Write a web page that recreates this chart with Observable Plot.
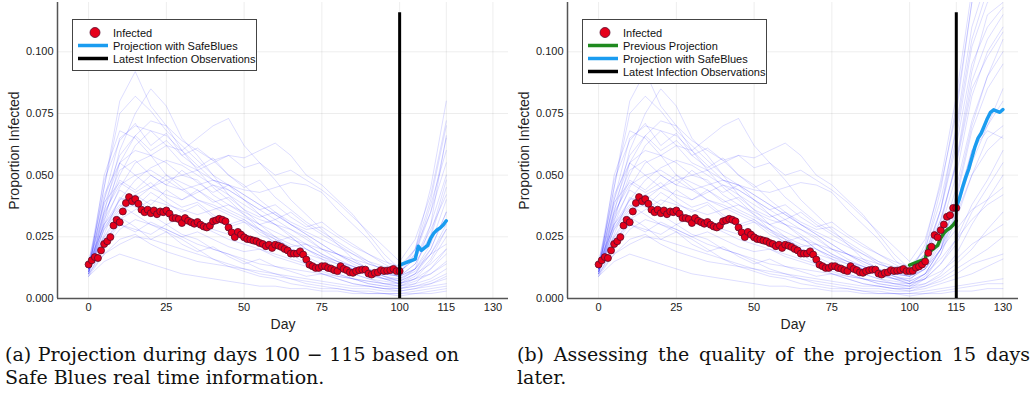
<!DOCTYPE html>
<html>
<head>
<meta charset="utf-8">
<script src="https://cdn.jsdelivr.net/npm/d3@7"></script>
<script src="https://cdn.jsdelivr.net/npm/@observablehq/plot@0.6"></script>
<style>
  body { margin: 0; background: #fff; }
  #root { position: relative; width: 1034px; height: 394px; overflow: hidden; }
  .panel { position: absolute; top: 0; }
  .legend { position: absolute; background: #fff; border: 1px solid #444; box-sizing: border-box;
            font: 11px "Liberation Sans", Arial, sans-serif; color: #111; padding-top: 6px; }
  .legend .row { height: 13px; display: flex; align-items: center; white-space: nowrap; }
  .legend svg { margin-left: 5px; margin-right: 5px; flex: none; }
  .cap { position: absolute; font-family: "DejaVu Serif", serif; font-size: 19px; color: #111;
         line-height: 23px; white-space: nowrap; }
  .cap .l1 { text-align: justify; text-align-last: justify; }
  svg [aria-label="x-axis label"], svg [aria-label="y-axis label"] { font-size: 14px; }
</style>
</head>
<body>
<div id="root"></div>
<script>
// ---------- data ----------
const xDomain = [-10, 135];
const yDomain = [0, 0.12];
const xTicks = [0, 25, 50, 75, 100, 115, 130];
const yTicks = [0, 0.025, 0.05, 0.075, 0.1];
const obsTop = 0.1158;           // top of the "Latest Infection Observations" line
const obsDayA = 100;
const obsDayB = 115;

// observed proportion infected, day 0 .. 115 (value index = day)
const infected = [
  .0138,.0155,.0168,.0164,.0195,.0221,.0232,.0249,.0296,.0319,
  .0309,.0353,.0387,.0411,.0394,.0403,.0384,.0360,.0350,.0360,
  .0346,.0357,.0342,.0353,.0350,.0357,.0344,.0326,.0326,.0322,
  .0306,.0326,.0315,.0309,.0303,.0310,.0299,.0292,.0288,.0295,
  .0313,.0317,.0323,.0319,.0313,.0288,.0268,.0249,.0270,.0259,
  .0248,.0241,.0239,.0235,.0232,.0225,.0221,.0212,.0218,.0205,
  .0218,.0214,.0209,.0201,.0195,.0182,.0182,.0182,.0191,.0178,
  .0158,.0137,.0131,.0124,.0124,.0131,.0131,.0124,.0121,.0115,
  .0111,.0131,.0120,.0115,.0106,.0104,.0111,.0115,.0117,.0117,
  .0101,.0097,.0104,.0106,.0115,.0111,.0113,.0115,.0120,.0111,
  .0111,
  .0112,.0125,.0130,.0138,.0150,.0185,.0210,.0257,.0248,.0277,
  .0300,.0331,.0338,.0367,.0367
];

// projection made on day 100 (days 100..115)
const projDaysA = [100,101,102,103,104,105,106,107,108,109,110,111,112,113,114,115];
const projA = [.0135,.0140,.0145,.0150,.0155,.0160,.0212,.0195,.0205,.0215,.0245,.0265,.0278,.0286,.0298,.0315];
// projection made on day 115 (days 115..130)
const projDaysB = [115,116,117,118,119,120,121,122,123,124,125,126,127,128,129,130];
const projB = [.0371,.0405,.0450,.0490,.0525,.0570,.0615,.0650,.0670,.0700,.0730,.0755,.0765,.0760,.0755,.0766];

// simulated trajectories (days 0,5,...,100)
const simDays = [0,5,10,15,20,25,30,35,40,45,50,55,60,65,70,75,80,85,90,95,100];
const runs = [
  [.012,.045,.080,.092,.078,.070,.060,.052,.045,.040,.034,.028,.022,.018,.014,.010,.008,.006,.005,.004,.003],
  [.010,.035,.060,.075,.085,.078,.065,.058,.050,.042,.036,.030,.025,.020,.016,.012,.010,.008,.006,.005,.004],
  [.011,.030,.045,.055,.058,.062,.060,.065,.070,.073,.062,.055,.048,.040,.034,.028,.022,.016,.012,.009,.007],
  [.012,.025,.035,.040,.045,.048,.050,.052,.055,.058,.057,.060,.063,.058,.050,.046,.040,.034,.026,.018,.012],
  [.013,.040,.065,.070,.068,.062,.055,.052,.048,.046,.044,.043,.045,.047,.046,.043,.036,.030,.024,.016,.010],
  [.010,.050,.068,.065,.058,.050,.045,.040,.038,.035,.032,.028,.024,.020,.017,.014,.012,.010,.008,.007,.006],
  [.012,.038,.055,.060,.058,.055,.050,.048,.042,.038,.034,.030,.027,.024,.022,.020,.018,.016,.014,.012,.011],
  [.009,.018,.022,.025,.024,.022,.020,.018,.016,.014,.012,.010,.009,.008,.006,.005,.004,.003,.003,.002,.002],
  [.014,.030,.040,.042,.045,.050,.047,.044,.040,.036,.033,.030,.032,.035,.030,.026,.022,.018,.014,.012,.010],
  [.011,.028,.036,.038,.034,.030,.026,.024,.020,.018,.015,.012,.010,.008,.007,.006,.005,.004,.004,.003,.003],
  [.015,.042,.055,.050,.045,.042,.040,.043,.046,.044,.040,.036,.032,.028,.025,.020,.016,.013,.010,.008,.008],
  [.010,.020,.028,.032,.030,.027,.024,.020,.016,.013,.011,.009,.008,.006,.005,.004,.004,.003,.002,.002,.002],
  [.012,.033,.050,.062,.068,.066,.060,.054,.048,.044,.040,.034,.030,.025,.020,.016,.012,.010,.008,.006,.005],
  [.013,.025,.032,.036,.040,.038,.036,.034,.036,.038,.035,.032,.030,.028,.024,.020,.018,.015,.012,.010,.009],
  [.009,.015,.018,.016,.014,.012,.010,.009,.008,.007,.006,.005,.005,.004,.004,.003,.003,.002,.002,.002,.001],
  [.012,.040,.058,.066,.072,.070,.064,.060,.056,.050,.046,.040,.035,.030,.026,.022,.018,.014,.011,.008,.006],
  [.014,.035,.046,.050,.052,.048,.044,.040,.037,.034,.031,.028,.025,.022,.020,.017,.015,.013,.011,.010,.009],
  [.011,.022,.030,.028,.026,.030,.033,.030,.027,.024,.022,.020,.018,.016,.014,.012,.010,.008,.007,.006,.005],
  [.010,.032,.044,.040,.036,.034,.032,.030,.028,.026,.024,.022,.021,.020,.018,.016,.014,.012,.011,.010,.009],
  [.013,.045,.075,.082,.076,.068,.062,.056,.050,.046,.042,.038,.034,.030,.026,.022,.018,.015,.012,.009,.007],
  [.012,.028,.040,.048,.053,.056,.054,.050,.046,.042,.038,.034,.030,.026,.022,.018,.015,.012,.010,.008,.007],
  [.010,.018,.024,.026,.022,.019,.017,.015,.014,.013,.012,.011,.010,.009,.008,.007,.006,.005,.005,.004,.004],
  [.011,.036,.052,.056,.050,.046,.044,.046,.048,.046,.042,.038,.034,.030,.027,.024,.021,.018,.015,.013,.012],
  [.013,.030,.038,.034,.030,.028,.025,.022,.020,.018,.016,.014,.013,.012,.011,.010,.009,.008,.007,.006,.006],
  [.011,.034,.048,.044,.050,.046,.052,.047,.043,.046,.040,.036,.038,.033,.029,.031,.026,.022,.018,.015,.013],
  [.012,.026,.041,.037,.043,.039,.035,.038,.033,.029,.031,.026,.023,.025,.020,.017,.014,.012,.009,.008,.006],
  [.009,.022,.033,.029,.024,.027,.022,.019,.021,.017,.014,.016,.013,.011,.009,.010,.008,.006,.005,.004,.004],
  [.014,.048,.064,.071,.062,.067,.058,.053,.057,.050,.045,.048,.041,.036,.031,.027,.023,.019,.015,.011,.009],
  [.010,.029,.037,.042,.038,.044,.040,.044,.039,.041,.036,.033,.035,.031,.028,.029,.025,.021,.018,.014,.011],
  [.013,.039,.047,.043,.047,.041,.037,.039,.034,.030,.032,.027,.024,.021,.022,.018,.015,.013,.011,.009,.008],
  [.011,.031,.055,.066,.060,.064,.058,.061,.056,.058,.053,.055,.050,.052,.048,.044,.039,.033,.027,.021,.015],
  [.012,.024,.030,.027,.031,.028,.025,.027,.024,.021,.019,.020,.017,.015,.013,.011,.009,.008,.006,.005,.005]
];
// continuation of each run in panel (a): days 105,110,115
const tailDaysA = [105,110,115];
const tailsA = [
  [.004,.006,.008],[.006,.012,.020],[.012,.030,.066],[.020,.040,.070],[.018,.038,.060],[.008,.012,.018],
  [.016,.030,.050],[.002,.003,.004],[.020,.045,.080],[.004,.005,.006],[.012,.022,.040],[.003,.004,.005],
  [.008,.015,.025],[.014,.025,.045],[.002,.002,.003],[.010,.018,.030],[.012,.020,.035],[.006,.008,.012],
  [.012,.018,.022],[.010,.020,.035],[.010,.014,.020],[.005,.007,.010],[.018,.035,.065],[.008,.010,.015],
  [.020,.035,.055],[.009,.016,.028],[.005,.006,.009],[.014,.026,.048],[.016,.028,.042],[.011,.018,.028],
  [.024,.042,.072],[.007,.010,.014]
];
// continuation of each run in panel (b): days 105..130
const tailDaysB = [105,110,115,120,125,130];
const tailsB = [
  [.005,.008,.012,.016,.020,.025],[.008,.018,.035,.055,.070,.085],[.015,.036,.070,.110,.130,.140],
  [.020,.044,.078,.120,.135,.140],[.018,.036,.062,.095,.110,.118],[.008,.014,.022,.035,.045,.055],
  [.016,.032,.055,.088,.105,.115],[.002,.003,.004,.005,.006,.006],[.022,.048,.082,.125,.140,.145],
  [.004,.006,.008,.010,.013,.016],[.012,.024,.045,.072,.090,.100],[.003,.004,.005,.006,.007,.008],
  [.009,.018,.032,.050,.065,.070],[.014,.028,.050,.082,.100,.110],[.002,.002,.003,.003,.004,.004],
  [.010,.020,.036,.060,.070,.080],[.012,.022,.038,.060,.068,.065],[.006,.009,.014,.020,.028,.035],
  [.012,.020,.028,.036,.040,.045],[.010,.020,.040,.068,.085,.095],[.010,.016,.024,.032,.038,.042],
  [.005,.007,.010,.014,.016,.018],[.018,.036,.065,.102,.120,.125],[.008,.011,.016,.022,.026,.030],
  [.020,.040,.068,.105,.125,.130],[.010,.020,.042,.070,.090,.105],[.006,.010,.018,.030,.040,.050],
  [.016,.030,.056,.092,.115,.120],[.018,.032,.054,.085,.098,.108],[.012,.020,.034,.050,.060,.066],
  [.024,.046,.075,.120,.135,.140],[.008,.014,.024,.038,.048,.060]
];

// ---------- colours ----------
const C = { sim: "#0000ff", dot: "#e6001b", dotStroke: "#5b0b2c", proj: "#1a9cf0", prev: "#1f8a1f", obs: "#000", axis: "#555" };

// ---------- helpers ----------
function simRows(tails, tailDays) {
  const rows = [];
  runs.forEach((r, i) => {
    simDays.forEach((d, j) => rows.push({ run: i, day: d, value: r[j] }));
    tailDays.forEach((d, j) => rows.push({ run: i, day: d, value: tails[i][j] }));
  });
  return rows;
}
const series = (days, vals) => days.map((d, i) => ({ day: d, value: vals[i] }));
const infectedRows = infected.map((v, i) => ({ day: i, value: v }));

function makePlot({ sims, lastDay, obsDay, extra }) {
  return Plot.plot({
    width: 512, height: 336,
    marginLeft: 57, marginRight: 4, marginTop: 2, marginBottom: 38,
    style: { fontFamily: "'Liberation Sans', Arial, sans-serif", fontSize: "11px", color: "#222", background: "transparent" },
    x: { domain: xDomain, ticks: xTicks, tickSize: 0, tickPadding: 5,
         label: "Day", labelAnchor: "center", labelOffset: 30, labelArrow: "none" },
    y: { domain: yDomain, ticks: yTicks, tickFormat: ".3f", tickSize: 0, tickPadding: 4,
         label: "Proportion Infected", labelAnchor: "center", labelOffset: 48, labelArrow: "none" },
    marks: [
      Plot.ruleX(xTicks, { stroke: "#000", strokeOpacity: 0.07 }),
      Plot.ruleY(yTicks, { stroke: "#000", strokeOpacity: 0.07 }),
      Plot.ruleY([yDomain[0]], { stroke: C.axis, strokeWidth: 1.5 }),
      Plot.ruleX([xDomain[0]], { stroke: C.axis, strokeWidth: 1.5 }),
      Plot.line(sims, { x: "day", y: "value", z: "run", stroke: C.sim, strokeOpacity: 0.15, strokeWidth: 0.9, clip: true }),
      ...extra,
      Plot.dot(infectedRows.filter(d => d.day <= lastDay), { x: "day", y: "value", r: 3.5, fill: C.dot, stroke: C.dotStroke, strokeWidth: 0.8 }),
      Plot.ruleX([obsDay], { y1: yDomain[0], y2: obsTop, stroke: C.obs, strokeWidth: 3 })
    ]
  });
}

function legendBox(items, left) {
  const div = document.createElement("div");
  div.className = "legend";
  div.style.left = left + "px";
  div.style.top = "19px";
  div.style.width = "185px";
  div.style.height = (items.length * 13 + 13) + "px";
  for (const it of items) {
    const row = document.createElement("div");
    row.className = "row";
    const sw = it.type === "dot"
      ? `<svg width="30" height="13"><circle cx="17" cy="6.5" r="5" fill="${C.dot}" stroke="${C.dotStroke}" stroke-width="0.8"/></svg>`
      : `<svg width="30" height="13"><line x1="0" x2="30" y1="6.5" y2="6.5" stroke="${it.color}" stroke-width="3.5"/></svg>`;
    row.innerHTML = sw + `<span>${it.label}</span>`;
    div.appendChild(row);
  }
  return div;
}

const root = document.getElementById("root");

// panel (a)
const pa = document.createElement("div");
pa.className = "panel"; pa.style.left = "0px";
pa.appendChild(makePlot({
  sims: simRows(tailsA, tailDaysA), lastDay: obsDayA, obsDay: obsDayA,
  extra: [Plot.line(series(projDaysA, projA), { x: "day", y: "value", stroke: C.proj, strokeWidth: 3.5 })]
}));
root.appendChild(pa);
root.appendChild(legendBox([
  { type: "dot", label: "Infected" },
  { type: "line", color: C.proj, label: "Projection with SafeBlues" },
  { type: "line", color: C.obs, label: "Latest Infection Observations" }
], 72));

// panel (b)
const pb = document.createElement("div");
pb.className = "panel"; pb.style.left = "510px";
pb.appendChild(makePlot({
  sims: simRows(tailsB, tailDaysB), lastDay: obsDayB, obsDay: obsDayB,
  extra: [
    Plot.line(series(projDaysA, projA), { x: "day", y: "value", stroke: C.prev, strokeWidth: 3.5 }),
    Plot.line(series(projDaysB, projB), { x: "day", y: "value", stroke: C.proj, strokeWidth: 3.5 })
  ]
}));
root.appendChild(pb);
root.appendChild(legendBox([
  { type: "dot", label: "Infected" },
  { type: "line", color: C.prev, label: "Previous Projection" },
  { type: "line", color: C.proj, label: "Projection with SafeBlues" },
  { type: "line", color: C.obs, label: "Latest Infection Observations" }
], 582));

// captions
function caption(left, width, l1, l2) {
  const d = document.createElement("div");
  d.className = "cap";
  d.style.left = left + "px";
  d.style.top = "343px";
  d.style.width = width + "px";
  d.innerHTML = `<div class="l1">${l1}</div><div>${l2}</div>`;
  root.appendChild(d);
}
caption(5, 454, "(a) Projection during days 100 − 115 based on", "Safe Blues real time information.");
caption(517, 513, "(b) Assessing the quality of the projection 15 days", "later.");
</script>
</body>
</html>
